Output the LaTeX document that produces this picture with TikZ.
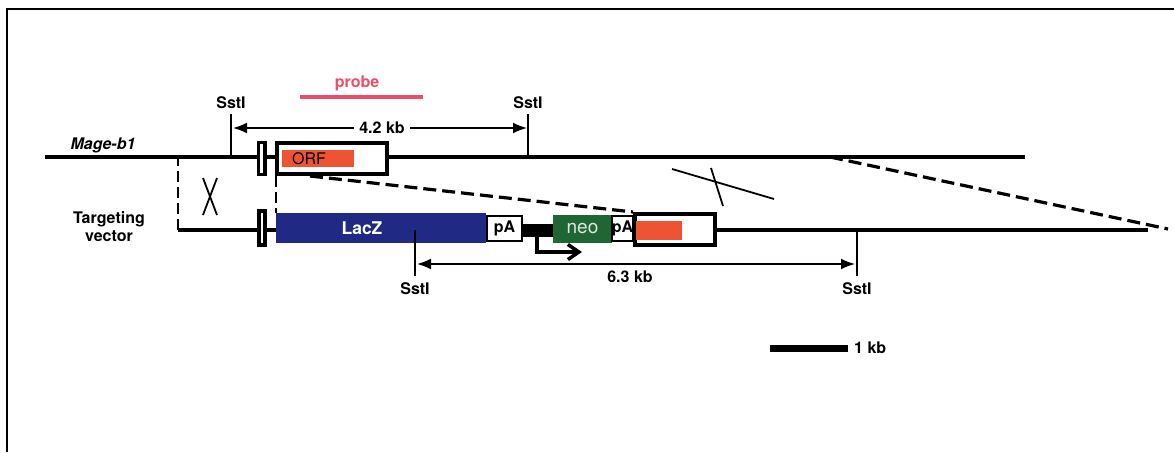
\documentclass[tikz,border=0pt]{standalone}
\usepackage{fontspec}
\setmainfont{TeX Gyre Heros}
\usetikzlibrary{calc, positioning}
\usetikzlibrary{arrows.meta}

\definecolor{lacblue}{RGB}{32,42,132}
\definecolor{orfred}{RGB}{238,84,52}
\definecolor{neogreen}{RGB}{32,102,52}
\definecolor{neotext}{RGB}{222,232,222}
\definecolor{probered}{RGB}{236,78,104}

\tikzset{
  exon/.style={draw, fill=white, line width=3.8pt},
  dnaline/.style={line width=4.2pt},
  siteline/.style={line width=1.6pt},
  gapdash/.style={line width=3.2pt, dash pattern=on 13pt off 6pt},
  kbarrow/.style={line width=1.8pt, {Latex[length=14pt,width=11pt]}-{Latex[length=14pt,width=11pt]}},
  pabox/.style={draw, fill=white, line width=1.6pt, minimum height=25.5pt},
}

\begin{document}
\begin{tikzpicture}[x=1pt, y=-1pt,
  every node/.style={inner sep=0pt, font=\fontsize{16}{18}\selectfont\bfseries}]
\useasboundingbox (0,0) rectangle (1174,452);
\draw[line width=1.5pt] (7,452) -- (7,9) -- (1174,9);

\def\yM{157}
\def\yT{230}

\coordinate (Mleft) at (45,\yM);
\coordinate (Mright) at (1025,\yM);
\coordinate (Mcut) at (830,\yM);
\coordinate (Tleft) at (178,\yT);
\coordinate (Tright) at (1148,\yT);
\coordinate (Tcut) at (1168,229);

\draw[dnaline] (Mleft) -- (Mright);
\draw[dnaline] (Tleft) -- (Tright);
\draw[line width=2.5pt, dash pattern=on 11pt off 5pt] (Tleft) -- (Tleft |- Mleft);

\node (MageLabel) at (103,145) {\itshape Mage-b1};
\node[align=center] (TVLabel) at (109,227) {Targeting\\vector};

\node[exon, minimum width=6.2pt, minimum height=32pt] (ExonA) at (261.5,158.5) {};
\node[exon, minimum width=110.2pt, minimum height=31.2pt] (BoxA) at (332,158.5) {};
\node[fill=orfred, minimum width=72pt, minimum height=17pt] (ORF) at (318,158.5) {};
\node[font=\fontsize{16}{18}\selectfont] at ([xshift=-9pt]ORF.center) {ORF};

\node[exon, minimum width=6.2pt, minimum height=34.2pt] (ExonB) at (262,228) {};
\node[fill=lacblue, minimum width=210pt, minimum height=30pt] (LacZ) at (381,228) {};
\node[text=white, font=\fontsize{17.5}{20}\selectfont\bfseries] at ([xshift=-19pt]LacZ.center) {LacZ};
\node[pabox, minimum width=35.5pt] (pAone) at (504.5,228.5) {pA};
\node[fill=black, minimum width=31pt, minimum height=13pt] (Pgk) at (538.5,230.5) {};
\node[fill=neogreen, text=neotext, font=\fontsize{19}{20}\selectfont,
  minimum width=59pt, minimum height=28pt] (neo) at (582.5,229) {neo};
\node[pabox, minimum width=19.5pt] (pAtwo) at (622.5,228.5) {pA};
\node[exon, minimum width=80.2pt, minimum height=31.2pt] (BoxB) at (675,229.5) {};
\node[fill=orfred, minimum width=46pt, minimum height=19pt] (ORFB) at (659,230.5) {};

\draw[gapdash] ([xshift=-22pt]BoxA.south) -- (BoxB.north west);
\draw[gapdash] (Mcut) -- (Tcut);
\draw[line width=2.5pt, dash pattern=on 11pt off 5pt] (LacZ.north west |- BoxA.south) -- (LacZ.north west);

\draw[line width=1.8pt] (203,178) -- (217,215) (217,178) -- (203,215);
\draw[line width=1.8pt] (672,169) -- (774,199) (711,168) -- (723,206);

\draw[line width=3.5pt, -{Straight Barb[length=11pt, width=15pt]}] (537,236) -- (537,252) -- (582,252);

\foreach \x/\n in {231/SA, 528/SB} {
  \draw[siteline] (\x,114) -- (\x,\yM);
  \node (\n) at (\x,103) {SstI};
}
\foreach \x/\n in {415/SC, 857/SD} {
  \draw[siteline] (\x,\yT) -- (\x,276);
  \node (\n) at (\x,289) {SstI};
}

\draw[kbarrow] (233,128) -- (527,128);
\node[fill=white, inner xsep=5pt, inner ysep=2pt] (KbA) at (382,128) {4.2 kb};
\draw[kbarrow] (417,264) -- (855,264);
\node (KbB) at (630,277) {6.3 kb};

\node[text=probered] (Probe) at (357,83) {probe};
\draw[probered, line width=3.5pt] (300,97) -- (423,97);

\draw[line width=7pt] (770,348) -- (848,348);
\node[anchor=west] (Scale) at (854,348) {1 kb};
\end{tikzpicture}
\end{document}
